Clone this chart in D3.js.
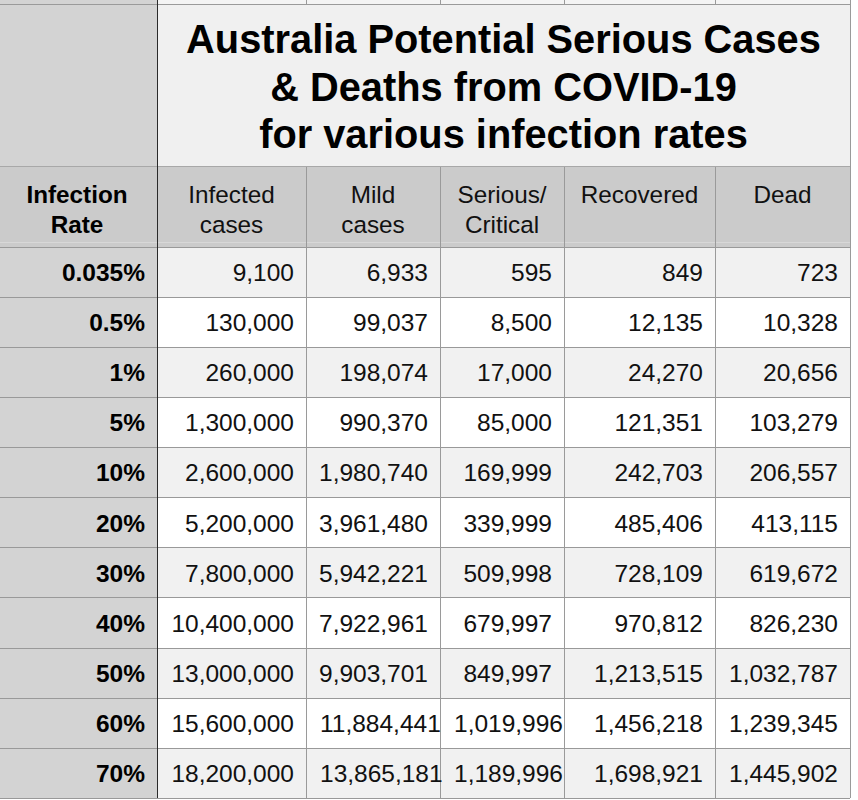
<!DOCTYPE html>
<html>
<head>
<meta charset="utf-8">
<script src="https://cdn.jsdelivr.net/npm/d3@7"></script>
<style>
  html, body { margin: 0; padding: 0; background: #ffffff; }
  svg { display: block; }
</style>
</head>
<body>
<svg id="chart" width="858" height="800"></svg>
<script>
// ---- data ----
const titleLines = ["Australia Potential Serious Cases", "& Deaths from COVID-19", "for various infection rates"];
const rowHeaderLines = ["Infection", "Rate"];
const columnHeaders = [["Infected", "cases"], ["Mild", "cases"], ["Serious/", "Critical"], ["Recovered"], ["Dead"]];
const infectionRates = ["0.035%", "0.5%", "1%", "5%", "10%", "20%", "30%", "40%", "50%", "60%", "70%"];
const infectedCases = [9100, 130000, 260000, 1300000, 2600000, 5200000, 7800000, 10400000, 13000000, 15600000, 18200000];
const mildCases = [6933, 99037, 198074, 990370, 1980740, 3961480, 5942221, 7922961, 9903701, 11884441, 13865181];
const seriousCritical = [595, 8500, 17000, 85000, 169999, 339999, 509998, 679997, 849997, 1019996, 1189996];
const recovered = [849, 12135, 24270, 121351, 242703, 485406, 728109, 970812, 1213515, 1456218, 1698921];
const dead = [723, 10328, 20656, 103279, 206557, 413115, 619672, 826230, 1032787, 1239345, 1445902];

const series = [infectedCases, mildCases, seriousCritical, recovered, dead];

// ---- layout ----
const svg = d3.select("#chart");
const font = "'Liberation Sans', Arial, Helvetica, sans-serif";
const colEdges = [0, 157, 306, 440, 564, 715, 850];
const titleTop = 4, headerTop = 166.5, dataTop = 247.2, dataBottom = 798.3;

const y = d3.scaleBand().domain(infectionRates).range([dataTop, dataBottom]).padding(0);
const colX0 = i => colEdges[i];
const colX1 = i => colEdges[i + 1];
const fmt = d3.format(",");

// background strip above the table
svg.append("rect").attr("x", 0).attr("y", 0).attr("width", 157).attr("height", titleTop).attr("fill", "#d3d3d3");
svg.append("rect").attr("x", 157).attr("y", 0).attr("width", 693).attr("height", titleTop).attr("fill", "#f4f4f4");

// title area
svg.append("rect").attr("x", 0).attr("y", titleTop).attr("width", 157).attr("height", headerTop - titleTop).attr("fill", "#d3d3d3");
svg.append("rect").attr("x", 157).attr("y", titleTop).attr("width", 693).attr("height", headerTop - titleTop).attr("fill", "#f0f0f0");

// header row
svg.append("rect").attr("x", 0).attr("y", headerTop).attr("width", 850).attr("height", dataTop - headerTop).attr("fill", "#cbcbcb");
svg.append("line").attr("x1", 0).attr("x2", 850).attr("y1", 242.5).attr("y2", 242.5).attr("stroke", "#d8d8d8").attr("stroke-width", 1);

// data rows backgrounds
const rows = svg.append("g");
rows.selectAll("rect.row").data(infectionRates).join("rect")
  .attr("class", "row")
  .attr("x", 157).attr("y", d => y(d)).attr("width", 693).attr("height", y.bandwidth())
  .attr("fill", (d, i) => i % 2 === 0 ? "#f1f1f1" : "#ffffff");
rows.selectAll("rect.lab").data(infectionRates).join("rect")
  .attr("class", "lab")
  .attr("x", 0).attr("y", d => y(d)).attr("width", 157).attr("height", y.bandwidth())
  .attr("fill", "#d3d3d3");

// grid lines
const grid = svg.append("g").attr("shape-rendering", "crispEdges");
grid.append("line").attr("x1", 0).attr("x2", 850).attr("y1", titleTop).attr("y2", titleTop).attr("stroke", "#9a9a9a");
grid.append("line").attr("x1", 0).attr("x2", 850).attr("y1", headerTop).attr("y2", headerTop).attr("stroke", "#a8a8a8");
grid.selectAll("line.h").data(infectionRates).join("line")
  .attr("class", "h")
  .attr("x1", 0).attr("x2", 850)
  .attr("y1", d => y(d)).attr("y2", d => y(d))
  .attr("stroke", "#999999");
grid.append("line").attr("x1", 0).attr("x2", 850).attr("y1", dataBottom).attr("y2", dataBottom).attr("stroke", "#999999");
// vertical lines
[306, 440, 564, 715].forEach(x => {
  grid.append("line").attr("x1", x).attr("x2", x).attr("y1", 0).attr("y2", titleTop).attr("stroke", "#9a9a9a");
  grid.append("line").attr("x1", x).attr("x2", x).attr("y1", headerTop).attr("y2", dataBottom).attr("stroke", "#9a9a9a");
});
grid.append("line").attr("x1", 850.5).attr("x2", 850.5).attr("y1", 0).attr("y2", dataBottom).attr("stroke", "#9a9a9a");
grid.append("line").attr("x1", 157).attr("x2", 157).attr("y1", 0).attr("y2", dataBottom).attr("stroke", "#2a2a2a");

// title
svg.append("g").selectAll("text").data(titleLines).join("text")
  .attr("x", 503.5).attr("y", (d, i) => 53 + i * 47.5)
  .attr("text-anchor", "middle")
  .attr("font-family", font).attr("font-weight", "bold").attr("font-size", 39.8)
  .attr("fill", "#000")
  .text(d => d);

// row header
svg.append("g").selectAll("text").data(rowHeaderLines).join("text")
  .attr("x", 77).attr("y", (d, i) => 203 + i * 29.5)
  .attr("text-anchor", "middle")
  .attr("font-family", font).attr("font-weight", "bold").attr("font-size", 24.3)
  .attr("fill", "#000")
  .text(d => d);

// column headers
const hdr = svg.append("g");
columnHeaders.forEach((lines, ci) => {
  hdr.selectAll(null).data(lines).join("text")
    .attr("x", (colX0(ci + 1) + colX1(ci + 1)) / 2)
    .attr("y", (d, i) => 203 + i * 29.5)
    .attr("text-anchor", "middle")
    .attr("font-family", font).attr("font-size", 24.3)
    .attr("fill", "#111")
    .text(d => d);
});

// row labels
svg.append("g").selectAll("text").data(infectionRates).join("text")
  .attr("x", 145).attr("y", d => y(d) + y.bandwidth() / 2 + 8.8)
  .attr("text-anchor", "end")
  .attr("font-family", font).attr("font-weight", "bold").attr("font-size", 24.5)
  .attr("fill", "#000")
  .text(d => d);

// data cells
const cells = svg.append("g");
series.forEach((vals, si) => {
  const ci = si + 1;
  const x0 = colX0(ci), x1 = colX1(ci);
  cells.selectAll(null).data(vals).join("text")
    .attr("y", (d, i) => y(infectionRates[i]) + y.bandwidth() / 2 + 8.8)
    .attr("font-family", font).attr("font-size", 24.5)
    .attr("fill", "#111")
    .text(d => fmt(d))
    .each(function() {
      const w = this.getComputedTextLength();
      const sel = d3.select(this);
      if (x1 - 12 - w < x0 + 12) {
        sel.attr("x", x0 + 14).attr("text-anchor", "start");
      } else {
        sel.attr("x", x1 - 12).attr("text-anchor", "end");
      }
    });
});
</script>
</body>
</html>
